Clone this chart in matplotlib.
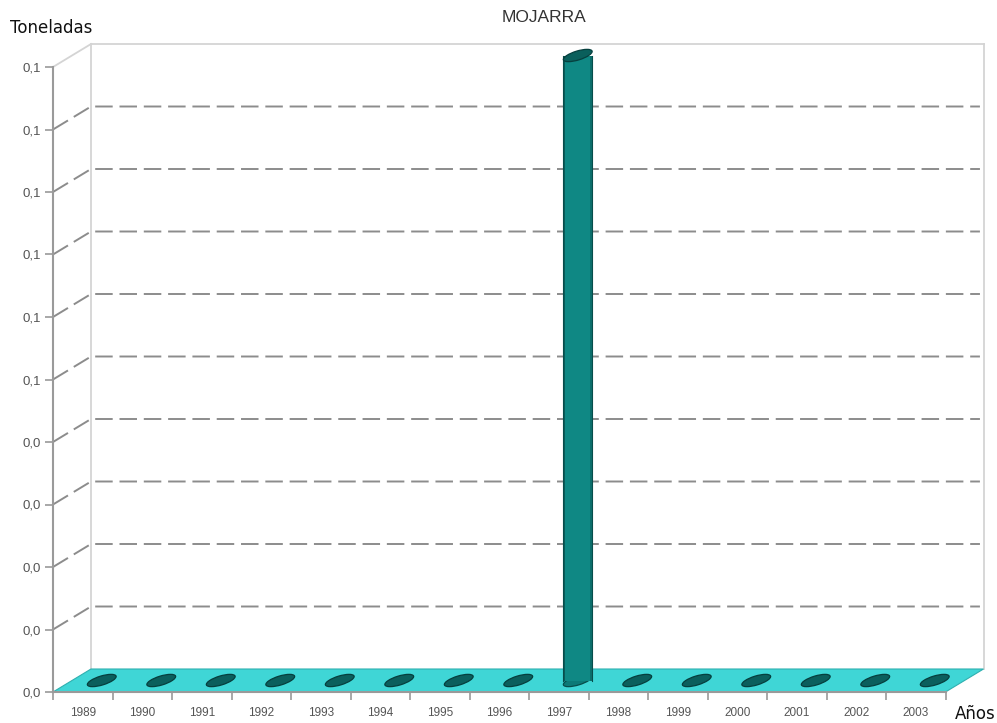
import numpy as np
import matplotlib
matplotlib.use('Agg')
import matplotlib.pyplot as plt
from matplotlib.patches import Polygon, Ellipse, Rectangle
from matplotlib.transforms import ScaledTranslation
from matplotlib.ticker import FuncFormatter, FixedLocator

years = ['1989', '1990', '1991', '1992', '1993', '1994', '1995', '1996',
         '1997', '1998', '1999', '2000', '2001', '2002', '2003']
toneladas = [0, 0, 0, 0, 0, 0, 0, 0, 0.1, 0, 0, 0, 0, 0, 0]
y_ticks = [i / 100 for i in range(11)]

W, H = 997, 723
fig = plt.figure(figsize=(W / 100, H / 100), dpi=100)
ax = fig.add_axes([53 / W, 31 / H, 892.5 / W, 625 / H])
n = len(years)
ax.set_xlim(0, n)
ax.set_ylim(0, y_ticks[-1])
ax.patch.set_visible(False)

# depth of the fake 3d box, in pixels -> data units
inv = ax.transData.inverted()
p0 = ax.transData.transform((0, 0))
ox, oy = inv.transform((p0[0] + 38, p0[1] + 23)) - inv.transform(p0)
px_per_cat = 892.5 / n

wall = '#d4d4d4'
top = y_ticks[-1]
for xs, ys in [([ox, ox], [oy, top + oy]),
               ([ox, n + ox], [top + oy, top + oy]),
               ([n + ox, n + ox], [oy, top + oy]),
               ([0, ox], [top, top + oy])]:
    ax.plot(xs, ys, color=wall, lw=1.3, clip_on=False, zorder=1)

for v in y_ticks[1:-1]:
    ax.plot([0, ox, n + ox - 0.06], [v, v + oy, v + oy], color='#8c8c8c',
            lw=1.4, dashes=(9, 3.5), clip_on=False, zorder=1)

# floor
floor = Polygon([(0, 0), (n, 0), (n + ox, oy), (ox, oy)], closed=True,
                facecolor='#3fd6d6', edgecolor='#2fb0b0', lw=0.8,
                clip_on=False, zorder=2)
ax.add_patch(floor)

ew, eh, ang = 0.30, 0.09, 17
hw = np.sqrt((ew * 50) ** 2 * np.cos(np.radians(ang)) ** 2 +
             (eh * 50) ** 2 * np.sin(np.radians(ang)) ** 2) / px_per_cat


def ellipse(xc, yc, fc, ec, z):
    tr = fig.dpi_scale_trans + ScaledTranslation(xc, yc, ax.transData)
    e = Ellipse((0, 0), ew, eh, angle=ang, transform=tr, facecolor=fc,
                edgecolor=ec, lw=0.9, clip_on=False, zorder=z)
    ax.add_patch(e)


for i, v in enumerate(toneladas):
    xc = i + 0.5 + ox / 2
    yb = oy / 2
    if v > 0:
        ellipse(xc, yb, '#0c7a77', '#074d4b', 3)
        ax.add_patch(Rectangle((xc - hw, yb), 2 * hw, v, facecolor='#0f8884',
                               edgecolor='none', clip_on=False, zorder=4))
        ax.add_patch(Rectangle((xc - hw, yb), 0.12 * hw, v, facecolor='#0a5c5a',
                               edgecolor='none', clip_on=False, zorder=4))
        ax.add_patch(Rectangle((xc + 0.85 * hw, yb), 0.15 * hw, v,
                               facecolor='#0c6f6c', edgecolor='none',
                               clip_on=False, zorder=4))
        ax.plot([xc - hw, xc - hw], [yb, yb + v], color='#074d4b', lw=0.8,
                clip_on=False, zorder=5)
        ax.plot([xc + hw, xc + hw], [yb, yb + v], color='#074d4b', lw=0.8,
                clip_on=False, zorder=5)
        ellipse(xc, yb + v, '#0a5f5c', '#063f3e', 6)
    else:
        ellipse(xc, yb, '#0b5f5d', '#063f3e', 3)

# axes, ticks and labels
for s in ['top', 'right']:
    ax.spines[s].set_visible(False)
for s in ['left', 'bottom']:
    ax.spines[s].set_color('#9a9a9a')
    ax.spines[s].set_linewidth(1.5)
    ax.spines[s].set_zorder(7)

ax.yaxis.set_major_locator(FixedLocator(y_ticks))
ax.yaxis.set_major_formatter(FuncFormatter(lambda v, p: f'{v:.1f}'.replace('.', ',')))
ax.tick_params(axis='y', length=6, width=1.2, color='#9a9a9a', pad=3,
               labelsize=9.5, labelcolor='#555555')

ax.xaxis.set_major_locator(FixedLocator(range(n + 1)))
ax.xaxis.set_major_formatter(FuncFormatter(lambda v, p: ''))
ax.set_xticks([i + 0.5 for i in range(n)], years, minor=True)
ax.tick_params(axis='x', which='major', length=6, width=1.2, color='#9a9a9a')
ax.tick_params(axis='x', which='minor', length=0, pad=11, labelsize=8.5,
               labelcolor='#555555')

for lab in ax.get_xticklabels(minor=True) + ax.get_yticklabels():
    lab.set_family('Liberation Sans')

fig.text(10 / W, 1 - 28 / H, 'Toneladas', fontsize=12, color='#111111',
         va='center', ha='left', family='DejaVu Sans')
fig.text(955 / W, 1 - 714 / H, 'Años', fontsize=12, color='#111111',
         va='center', ha='left', family='DejaVu Sans')
fig.text(544 / W, 1 - 17 / H, 'MOJARRA', fontsize=12.5, color='#333333',
         va='center', ha='center', family='Liberation Sans')

fig.savefig('out.png', dpi=100)
